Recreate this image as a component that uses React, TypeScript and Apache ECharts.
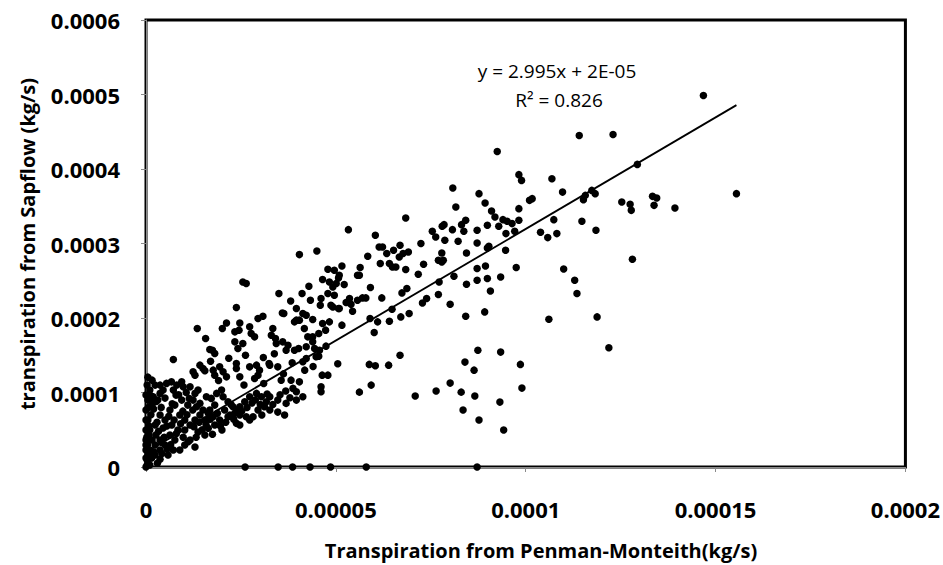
import React, { useEffect, useRef } from "react";
import * as echarts from "echarts";

// All observation values are in units of 1e-6 kg/s: [Penman-Monteith, Sapflow]
const UNIT = 1e-6;

const zeroReadings: number[][] = [
  [0, 0], [26.1, 0], [34.8, 0], [38.6, 0], [43.2, 0], [48.6, 0], [58.0, 0], [87.2, 0],
];

const nearOrigin: number[][] = [
  [0.6, 5.0], [0.5, 63.0], [1.0, 49.6], [2.4, 56.3], [3.7, 69.7], [5.0, 63.0], [6.3, 76.4],
  [7.6, 83.1], [8.9, 69.7], [10.2, 63.0], [8.4, 49.6], [6.3, 42.9], [3.7, 36.2], [2.4, 29.5],
  [1.0, 22.8], [0.5, 16.1], [0.3, 9.4], [0.3, 2.7], [1.0, 2.7], [2.4, 16.1], [5.0, 29.5],
  [7.6, 36.2], [10.2, 49.6], [11.6, 56.3], [12.9, 63.0], [14.2, 69.7], [15.5, 63.0],
  [16.8, 76.4], [18.1, 83.1], [20.7, 76.4], [22.1, 69.7], [10.2, 29.5], [8.9, 22.8],
  [5.8, 16.1], [3.7, 22.8], [1.6, 36.2], [0, 36.2], [0, 49.6], [0, 63.0], [0, 76.4],
  [0.5, 89.8], [1.6, 83.1], [3.1, 89.8], [5.0, 92.5], [3.7, 109.9], [2.4, 109.9],
  [1.0, 103.2], [0, 96.5], [0, 29.5], [0, 22.8], [0.8, 42.9], [2.6, 42.9], [4.5, 52.3],
  [6.8, 56.3], [7.9, 96.5], [9.4, 89.8], [11.0, 83.1], [12.3, 76.4], [0, 12.0], [1.0, 16.0],
  [11.6, 36.2], [13.7, 46.9], [18.1, 56.3], [20.0, 49.6], [15.5, 42.9], [12.9, 26.8],
  [24.7, 56.3], [27.3, 63.0], [30.5, 69.7], [32.6, 76.4], [34.7, 73.7], [36.5, 69.7],
  [0.5, 120.6], [1.6, 116.6], [0.3, 110.0], [3.7, 10.3], [7.2, 22.8], [11.1, 33.9],
  [16.4, 51.9], [23.8, 58.6],
  [0.2, 40], [0.8, 55], [1.3, 70], [2.0, 78], [2.9, 60], [3.3, 48], [4.1, 33], [4.8, 40],
  [5.5, 55], [6.0, 68], [6.9, 85], [7.4, 63], [8.0, 45], [9.1, 58], [9.7, 75], [10.8, 70],
  [11.4, 92], [12.6, 54], [13.2, 40], [14.0, 60], [14.8, 50], [15.8, 57], [16.9, 64],
  [17.5, 44], [18.8, 72], [19.6, 55], [21.0, 60], [22.4, 84], [23.1, 64], [25.2, 75],
  [26.6, 80], [27.9, 86], [28.8, 90], [30.1, 84], [31.9, 98], [33.4, 84], [35.3, 97],
  [36.8, 102], [37.9, 93], [2.1, 20], [3.0, 5], [4.2, 18], [5.6, 24], [6.5, 30], [9.8, 40],
  [1.5, 12], [0.4, 30], [0.6, 80], [1.2, 96], [2.7, 88], [4.0, 80], [8.6, 97], [10.6, 100],
];

const lowerBand: number[][] = [
  [5.4, 112.2], [6.7, 114.3], [8.1, 109.9], [9.4, 114.3], [9.8, 107.6], [7.2, 103.2],
  [4.5, 103.2], [3.7, 98.8], [1.9, 94.2], [1.0, 89.8], [11.6, 107.6], [12.9, 98.8],
  [13.7, 103.2], [12.4, 89.8], [14.2, 85.4], [15.9, 94.2], [17.2, 92.1], [18.6, 98.8],
  [19.9, 103.2], [20.3, 94.2], [21.6, 87.5], [22.9, 80.8], [23.8, 76.4], [24.7, 80.8],
  [26.0, 87.5], [27.3, 94.2], [29.1, 98.8], [30.4, 94.2], [31.7, 87.5], [31.2, 80.8],
  [29.5, 76.4], [28.2, 67.4], [26.4, 67.4], [24.7, 69.7], [23.4, 72.0], [21.6, 67.4],
  [19.4, 63.0], [17.7, 67.4], [16.4, 72.0], [15.0, 76.4], [13.3, 80.8],
  [7.2, 144.4], [12.4, 127.7], [12.9, 123.3], [14.2, 136.7], [15.0, 132.3], [15.5, 129.1],
  [17.7, 130.0], [18.1, 123.3], [19.4, 134.4], [20.3, 127.7], [21.2, 121.0], [23.8, 132.3],
  [23.8, 139.0], [24.7, 121.0], [27.3, 134.4], [29.1, 136.7], [29.9, 130.0], [29.5, 123.3],
  [28.6, 118.9], [34.7, 134.4], [32.6, 136.7], [32.4, 139.0], [35.6, 116.6], [38.2, 116.6],
  [40.4, 114.3], [38.7, 105.5], [39.6, 100.9], [41.3, 94.2], [39.6, 89.8], [36.9, 85.4],
  [34.7, 89.8], [32.6, 94.2], [46.4, 123.3], [47.9, 123.3], [46.1, 107.6], [46.1, 100.9],
  [17.0, 142], [21.8, 146], [26.2, 150], [30.9, 147], [33.8, 152], [19.1, 116], [25.8, 110],
  [31.0, 112], [36.2, 125], [38.5, 140], [41.8, 130], [44.0, 135],
  [56.2, 100.5], [59.3, 109.9], [70.9, 95.2], [76.4, 101.9], [80.1, 112.6], [83.0, 100.5],
  [83.5, 76.4], [86.6, 95.2], [87.7, 63.0], [93.2, 87.1], [94.2, 49.6], [99.0, 105.9],
];

const middleBand: number[][] = [
  [13.5, 185.9], [15.7, 172.5], [16.8, 157.8], [17.5, 156.8], [18.1, 152.4], [20.1, 185.9],
  [21.2, 193.4], [23.4, 181.4], [24.5, 183.7], [24.7, 193.4], [23.4, 168.0], [24.2, 159.1],
  [25.5, 165.8], [23.8, 214.1], [27.3, 188.1], [27.7, 179.2], [28.6, 174.7], [29.5, 199.3],
  [30.8, 202.4], [33.4, 185.9], [33.0, 176.9], [34.1, 172.5], [34.3, 165.8], [36.0, 168.0],
  [37.4, 163.5], [36.9, 156.8], [39.1, 156.8], [40.2, 159.1], [42.2, 161.3], [43.9, 174.7],
  [45.5, 179.2], [44.8, 147.9], [45.7, 156.8], [35.9, 206.8], [36.3, 206.0], [39.1, 194.8],
  [39.6, 197.1], [38.1, 222.9], [39.6, 212.7], [35.0, 232.8], [46.1, 226.1], [43.3, 223.9],
  [45.9, 217.2], [48.7, 217.2], [49.2, 214.9], [50.9, 212.7], [41.3, 206.0], [42.2, 203.8],
  [43.9, 198.0], [46.5, 192.6], [48.3, 194.8], [47.3, 183.7], [40.4, 197.1], [41.7, 185.9],
  [42.6, 174.7], [43.9, 168.0], [44.4, 159.1], [47.4, 162.2], [45.5, 148.8], [42.2, 145.7],
  [41.3, 141.2], [51.6, 190.4], [50.5, 138.5], [58.8, 137.7], [60.4, 135.8], [63.9, 136.7],
  [66.9, 150.1], [84.0, 140.8], [86.4, 130.0], [87.4, 156.8], [93.4, 154.2], [98.6, 137.7],
  [60.1, 180.6], [59.0, 199.3], [61.0, 194.8], [64.1, 195.7], [64.8, 211.8], [69.3, 206.0],
  [67.1, 201.5], [73.9, 226.1], [72.8, 220.2], [80.1, 218.5], [89.2, 208.2], [84.2, 202.4],
  [54.4, 209.1], [50.7, 212.7], [52.7, 220.8], [54.0, 218.5], [53.6, 226.1], [55.7, 223.9],
  [57.0, 227.0], [57.9, 227.0], [62.1, 227.0], [59.1, 240.9], [68.7, 239.5], [67.4, 233.7],
  [77.2, 248.4], [77.0, 231.5], [90.7, 236.3], [106.1, 198.4], [118.8, 201.5], [113.5, 232.8],
  [121.9, 160.0],
];

const upperBand: number[][] = [
  [25.5, 248.4], [26.4, 246.2], [40.4, 285.1], [45.0, 290.0], [41.1, 232.8], [42.9, 242.6],
  [47.9, 232.8], [49.6, 230.6], [46.5, 251.6], [48.3, 248.4], [49.2, 241.7], [50.7, 253.8],
  [52.2, 244.9], [50.1, 246.2], [50.9, 257.4], [47.9, 265.4], [49.6, 264.1], [51.6, 269.8],
  [56.4, 267.7], [55.7, 257.4], [56.2, 257.4], [58.4, 282.8], [61.4, 295.3], [62.3, 295.3],
  [65.2, 290.9], [66.7, 281.9], [66.9, 297.6], [67.7, 286.5], [69.1, 288.6], [63.4, 286.5],
  [61.7, 273.1], [64.1, 273.1], [64.9, 268.5], [65.8, 268.5], [68.4, 265.0], [71.7, 258.7],
  [73.1, 272.1], [77.0, 277.5], [77.9, 275.2], [78.3, 277.5], [77.9, 287.3], [84.4, 287.3],
  [81.1, 256.0], [84.4, 245.3], [87.2, 266.4], [87.2, 250.7], [89.4, 269.8], [89.9, 253.0],
  [93.4, 255.1], [97.5, 267.7], [94.7, 290.9], [90.3, 296.3], [89.9, 294.0], [72.4, 299.9],
  [78.7, 304.3], [82.2, 303.0], [87.2, 300.7], [53.3, 318.6], [60.4, 311.0], [68.4, 334.2],
  [75.4, 316.4], [76.3, 308.7], [78.0, 323.1], [78.5, 325.3], [80.7, 318.6], [83.1, 325.3],
  [84.2, 331.1], [83.7, 316.4], [87.2, 317.7], [89.9, 324.4], [92.9, 323.1], [94.0, 332.0],
  [95.1, 329.8], [96.4, 326.7], [98.2, 331.1], [94.8, 313.3], [97.1, 316.4], [91.0, 343.6],
  [91.9, 335.5], [98.2, 346.8], [81.6, 348.9], [89.3, 354.3], [87.7, 366.9], [80.8, 374.4],
  [101.0, 357.9], [101.7, 360.2], [98.2, 392.4], [98.9, 384.7], [92.5, 423.6],
  [103.9, 315.0], [105.8, 307.9], [108.2, 313.3], [107.4, 332.0], [114.8, 329.8],
  [118.5, 317.7], [128.1, 278.8], [110.0, 265.8], [112.9, 250.7], [106.9, 387.0],
  [109.7, 369.0], [117.4, 371.3], [118.3, 366.9], [115.7, 364.6], [115.2, 358.8],
  [125.3, 355.6], [127.5, 352.6], [127.8, 344.5], [133.4, 363.3], [134.5, 361.0],
  [133.8, 351.2], [139.3, 347.6], [129.4, 406.2], [114.1, 445.0], [123.0, 446.4],
  [146.8, 498.7], [155.5, 366.9],
];

const X_TICKS = ["0", "0.00005", "0.0001", "0.00015", "0.0002"];
const Y_TICKS = ["0", "0.0001", "0.0002", "0.0003", "0.0004", "0.0005", "0.0006"];
const X_STEP = 0.00005;
const Y_STEP = 0.0001;

const SLOPE = 2.995;
const INTERCEPT = 2e-5;
const EQUATION = "y = 2.995x + 2E-05";
const R_SQUARED = "R² = 0.826";
const X_TITLE = "Transpiration from Penman-Monteith(kg/s)";
const Y_TITLE = "transpiration from Sapflow (kg/s)";

const FONT = "'Open Sans', 'Noto Sans', sans-serif";

export default function App() {
  const ref = useRef<HTMLDivElement>(null);
  useEffect(() => {
    if (!ref.current) return;
    const chart = echarts.init(ref.current, undefined, { renderer: "svg" });
    const all = [...zeroReadings, ...nearOrigin, ...lowerBand, ...middleBand, ...upperBand];
    const points = all.map(([x, y]) => [x * UNIT, y * UNIT]);
    const xMax = Math.max(...points.map((p) => p[0]));
    const trend = [
      [0, INTERCEPT],
      [xMax, SLOPE * xMax + INTERCEPT],
    ];
    chart.setOption({
      animation: false,
      backgroundColor: "#fff",
      grid: {
        left: 146,
        top: 20,
        right: 35,
        bottom: 98,
        show: true,
        borderColor: "#000",
        borderWidth: 3,
        backgroundColor: "#fff",
      },
      xAxis: {
        type: "value",
        min: 0,
        max: 0.0002,
        interval: X_STEP,
        splitLine: { show: false },
        axisLine: { lineStyle: { color: "#8a8a8a", width: 1 } },
        axisTick: { show: true, length: 5, lineStyle: { color: "#8a8a8a" } },
        axisLabel: {
          margin: 31,
          fontFamily: FONT,
          fontWeight: "bold",
          fontSize: 22,
          color: "#000",
          formatter: (v: number) => X_TICKS[Math.round(v / X_STEP)] ?? "",
        },
      },
      yAxis: {
        type: "value",
        min: 0,
        max: 0.0006,
        interval: Y_STEP,
        splitLine: { show: false },
        axisLine: { lineStyle: { color: "#8a8a8a", width: 1 } },
        axisTick: { show: true, length: 5, lineStyle: { color: "#8a8a8a" } },
        axisLabel: {
          margin: 26,
          fontFamily: FONT,
          fontWeight: "bold",
          fontSize: 22,
          color: "#000",
          formatter: (v: number) => Y_TICKS[Math.round(v / Y_STEP)] ?? "",
        },
      },
      series: [
        {
          type: "scatter",
          data: points,
          symbol: "circle",
          symbolSize: 7.5,
          itemStyle: { color: "#000", opacity: 1 },
          clip: false,
          z: 3,
        },
        {
          type: "line",
          data: trend,
          showSymbol: false,
          symbol: "none",
          lineStyle: { color: "#000", width: 1.8 },
          z: 4,
        },
      ],
      graphic: [
        {
          type: "text",
          x: 557,
          y: 71,
          style: {
            text: EQUATION,
            fontFamily: FONT,
            fontSize: 19,
            fill: "#000",
            align: "center",
            verticalAlign: "middle",
          },
        },
        {
          type: "text",
          x: 559,
          y: 100,
          style: {
            text: R_SQUARED,
            fontFamily: FONT,
            fontSize: 19,
            fill: "#000",
            align: "center",
            verticalAlign: "middle",
          },
        },
        {
          type: "text",
          x: 541,
          y: 550,
          style: {
            text: X_TITLE,
            fontFamily: FONT,
            fontWeight: "bold",
            fontSize: 20,
            fill: "#000",
            align: "center",
            verticalAlign: "middle",
          },
        },
        {
          type: "text",
          x: 27,
          y: 244,
          rotation: Math.PI / 2,
          style: {
            text: Y_TITLE,
            fontFamily: FONT,
            fontWeight: "bold",
            fontSize: 20,
            fill: "#000",
            align: "center",
            verticalAlign: "middle",
          },
        },
      ],
    });
    return () => chart.dispose();
  }, []);
  return (
    <div
      ref={ref}
      style={{ width: 943, height: 565, position: "absolute", left: 0, top: 0 }}
    />
  );
}
